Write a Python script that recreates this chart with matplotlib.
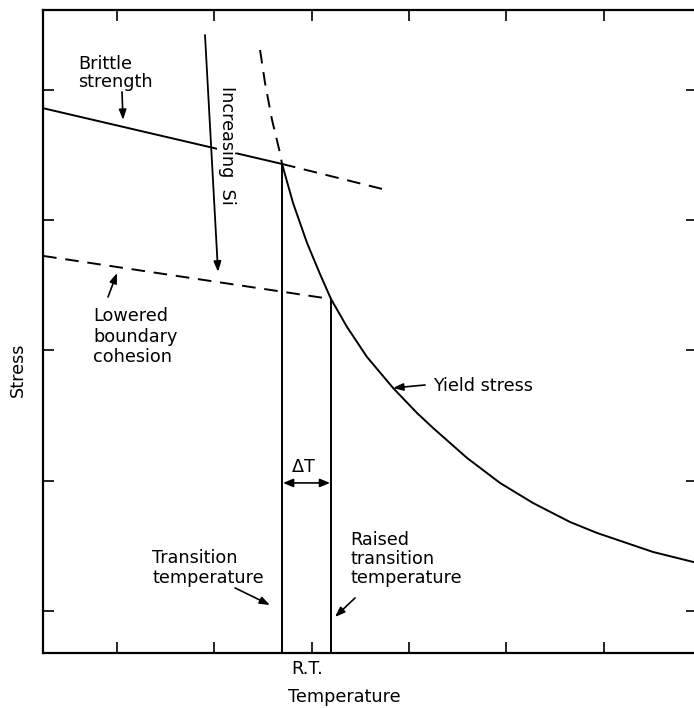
import matplotlib.pyplot as plt
import matplotlib.transforms as mtransforms

# brittle fracture strength (solid) and its extension past the transition (dashed)
brittle_x = [0.24, 2.696]
brittle_y = [4.86, 4.432]
brittle_ext_x = [2.696, 3.806]
brittle_ext_y = [4.432, 4.225]

# brittle strength with lowered boundary cohesion
lowered_x = [0.24, 3.199]
lowered_y = [3.726, 3.395]

# yield stress curve, dashed above the transition point
yield_up_x = [2.470, 2.521, 2.593, 2.675, 2.696]
yield_up_y = [5.307, 5.054, 4.770, 4.516, 4.432]
yield_x = [2.696, 2.809, 2.953, 3.086, 3.199, 3.364, 3.569, 3.837, 4.083,
           4.248, 4.597, 4.936, 5.275, 5.656, 5.933, 6.509, 6.961]
yield_y = [4.432, 4.132, 3.825, 3.587, 3.395, 3.180, 2.950, 2.712, 2.520,
           2.405, 2.175, 1.983, 1.829, 1.683, 1.599, 1.453, 1.369]

trans_T = 2.696
raised_T = 3.199

xticks = [1, 2, 3, 4, 5, 6]
xtick_labels = ['', '', 'R.T.', '', '', '']
yticks = [1, 2, 3, 4, 5]

plt.rcParams['font.family'] = 'DejaVu Sans'
fs = 12.7
lw = 1.4
dash = (7, 4.5)

fig = plt.figure(figsize=(6.94, 7.08), dpi=100)
ax = fig.add_axes([0.062, 0.0777, 0.9424, 0.9082])
ax.set_xlim(0.2395, 6.961)
ax.set_ylim(0.6775, 5.614)

ax.plot(brittle_x, brittle_y, color='black', lw=lw)
ax.plot(brittle_ext_x, brittle_ext_y, color='black', lw=lw, dashes=dash)
ax.plot(lowered_x, lowered_y, color='black', lw=lw, dashes=dash)
ax.plot(yield_up_x, yield_up_y, color='black', lw=lw, dashes=dash)
ax.plot(yield_x, yield_y, color='black', lw=lw)

ymin = ax.get_ylim()[0]
ax.vlines([trans_T], ymin, brittle_y[-1], color='black', lw=lw)
ax.vlines([raised_T], ymin, lowered_y[-1], color='black', lw=lw)

arrow = dict(arrowstyle='-|>,head_length=0.6,head_width=0.22', color='black',
             lw=1.2, shrinkA=0, shrinkB=0)

ax.annotate('', xy=(1.062, 4.770), xytext=(1.051, 4.985), arrowprops=arrow)
ax.text(0.599, 4.99, 'Brittle\nstrength', fontsize=fs, ha='left',
        va='bottom', linespacing=1.05)

ax.annotate('', xy=(2.038, 3.603), xytext=(1.904, 5.422),
            arrowprops=dict(arrow, lw=1.3), zorder=5)
ax.text(2.131, 4.578, 'Increasing  Si', rotation=-90, fontsize=fs,
        ha='center', va='center', zorder=4,
        bbox=dict(facecolor='white', edgecolor='none', pad=1))

ax.annotate('', xy=(1.0, 3.595), xytext=(0.9075, 3.411), arrowprops=arrow)
ax.text(0.753, 3.107, 'Lowered\nboundary\ncohesion', fontsize=fs,
        ha='left', va='center', linespacing=1.2)

ax.annotate('', xy=(3.837, 2.712), xytext=(4.166, 2.735), arrowprops=arrow)
ax.text(4.248, 2.727, 'Yield stress', fontsize=fs, ha='left', va='center')

ax.annotate('', xy=(2.572, 1.046), xytext=(2.213, 1.177), arrowprops=arrow)
ax.text(1.360, 1.330, 'Transition\ntemperature', fontsize=fs,
        ha='left', va='center', linespacing=1.15)

ax.annotate('', xy=(3.240, 0.954), xytext=(3.446, 1.100), arrowprops=arrow)
ax.text(3.395, 1.399, 'Raised\ntransition\ntemperature', fontsize=fs,
        ha='left', va='center', linespacing=1.1)

ax.annotate('', xy=(raised_T - 0.01, 1.983), xytext=(trans_T + 0.01, 1.983),
            arrowprops=dict(arrow, arrowstyle='<|-|>,head_length=0.6,head_width=0.25'))
ax.text(2.915, 2.106, r'$\Delta$T', fontsize=fs, ha='center', va='center')

ax.set_xticks(xticks)
ax.set_xticklabels(xtick_labels, fontsize=fs)
ax.set_yticks(yticks)
ax.set_yticklabels([])
ax.tick_params(direction='in', length=8, width=1.2, top=True, right=True,
               pad=5)
for s in ax.spines.values():
    s.set_linewidth(1.6)

# nudge the R.T. label slightly left of its tick
shift = mtransforms.ScaledTranslation(-5 / 100, 0, fig.dpi_scale_trans)
for lab in ax.get_xticklabels():
    lab.set_transform(lab.get_transform() + shift)

ax.text(0.46, -0.068, 'Temperature', transform=ax.transAxes, fontsize=fs,
        ha='center', va='center')
ax.text(-0.038, 0.44, 'Stress', transform=ax.transAxes, fontsize=fs,
        rotation=90, ha='center', va='center')

fig.savefig('out.png', dpi=100)
